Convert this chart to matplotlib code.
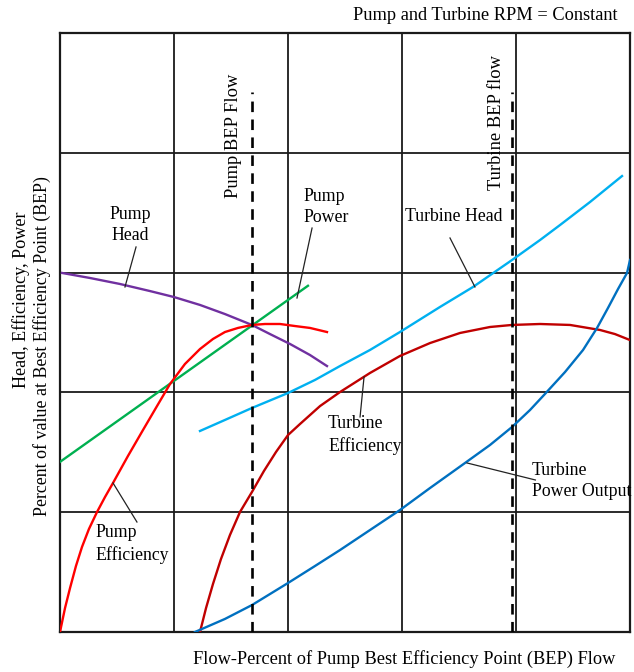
import matplotlib
matplotlib.use("Agg")
import matplotlib.pyplot as plt

plt.rcParams["font.family"] = ["Liberation Serif", "DejaVu Serif"]

# Curve data on a 5 x 5 grid (flow on x, percent of BEP value on y)
pump_head_x = [0.018, 0.263, 0.526, 0.789, 1.000, 1.228, 1.447, 1.684, 1.842, 2.018, 2.193, 2.342]
pump_head_y = [2.997, 2.955, 2.905, 2.846, 2.796, 2.730, 2.654, 2.563, 2.487, 2.404, 2.312, 2.220]

pump_power_x = [0.0, 2.175]
pump_power_y = [1.42, 2.89]

pump_eff_x = [0.0, 0.044, 0.088, 0.140, 0.193, 0.254, 0.325, 0.395, 0.465, 0.596, 0.728, 0.851,
              0.965, 1.096, 1.228, 1.342, 1.447, 1.561, 1.684, 1.798, 1.930, 2.061, 2.193, 2.342]
pump_eff_y = [0.0, 0.200, 0.367, 0.551, 0.710, 0.860, 1.002, 1.127, 1.244, 1.469, 1.686, 1.886,
              2.070, 2.237, 2.362, 2.446, 2.504, 2.538, 2.563, 2.571, 2.571, 2.554, 2.538, 2.504]

turb_head_x = [1.228, 1.447, 1.684, 2.000, 2.237, 2.456, 2.719, 2.982, 3.333, 3.623, 3.965,
               4.211, 4.386, 4.649, 4.930]
turb_head_y = [1.678, 1.770, 1.870, 1.995, 2.104, 2.220, 2.354, 2.504, 2.713, 2.880, 3.105,
               3.272, 3.397, 3.589, 3.806]

turb_eff_x = [1.228, 1.281, 1.342, 1.412, 1.491, 1.579, 1.684, 1.789, 1.895, 2.000, 2.105, 2.281,
              2.456, 2.719, 2.982, 3.246, 3.509, 3.772, 3.965, 4.211, 4.474, 4.737, 4.868, 5.000]
turb_eff_y = [0.0, 0.200, 0.401, 0.609, 0.810, 1.002, 1.169, 1.344, 1.503, 1.644, 1.736, 1.886,
              2.003, 2.162, 2.304, 2.412, 2.496, 2.546, 2.563, 2.571, 2.563, 2.521, 2.487, 2.437]

turb_power_x = [1.184, 1.447, 1.684, 2.000, 2.237, 2.456, 2.719, 2.982, 3.246, 3.553, 3.772,
                3.965, 4.123, 4.254, 4.430, 4.588, 4.711, 4.807, 4.895, 4.974, 5.000]
turb_power_y = [0.0, 0.109, 0.225, 0.409, 0.551, 0.684, 0.851, 1.018, 1.202, 1.411, 1.561,
                1.711, 1.853, 1.987, 2.170, 2.354, 2.538, 2.705, 2.863, 2.997, 3.105]

pump_bep_x = 1.684
turbine_bep_x = 3.965
bep_line_top = 4.51

fig = plt.figure(figsize=(6.34, 6.72), dpi=100)
ax = fig.add_axes([60 / 634, 40 / 672, 570 / 634, 599 / 672])
ax.set_xlim(0, 5)
ax.set_ylim(0, 5)
ax.set_xticks(range(6))
ax.set_yticks(range(6))
ax.tick_params(length=0, labelbottom=False, labelleft=False)
ax.grid(True, color="#1a1a1a", lw=1.3)
for s in ax.spines.values():
    s.set_linewidth(1.6)
    s.set_color("#1a1a1a")

lw = 1.7
ax.plot(pump_head_x, pump_head_y, color="#7030A0", lw=lw, zorder=3)
ax.plot(pump_power_x, pump_power_y, color="#00B050", lw=lw, zorder=3)
ax.plot(pump_eff_x, pump_eff_y, color="#FF0000", lw=lw, zorder=4)
ax.plot(turb_head_x, turb_head_y, color="#00B0F0", lw=lw, zorder=3)
ax.plot(turb_eff_x, turb_eff_y, color="#C00000", lw=lw, zorder=3)
ax.plot(turb_power_x, turb_power_y, color="#0070C0", lw=lw, zorder=3)

for bx in (pump_bep_x, turbine_bep_x):
    ax.plot([bx, bx], [0, bep_line_top], color="black", lw=1.9,
            dashes=(4, 2.8), zorder=5)

fs = 12.8
ax.text(1.518, 4.14, "Pump BEP Flow", rotation=90, ha="center",
        va="center", fontsize=13.3, zorder=6)
ax.text(3.833, 4.25, "Turbine BEP flow", rotation=90, ha="center",
        va="center", fontsize=13.3, zorder=6)

# Curve labels with leader lines
leader = dict(color="#222222", lw=0.9, zorder=6)
ax.text(0.614, 3.397, "Pump\nHead", ha="center", va="center", fontsize=fs,
        linespacing=1.35)
ax.plot([0.667, 0.570], [3.214, 2.880], **leader)

ax.text(2.132, 3.548, "Pump\nPower", ha="left", va="center", fontsize=fs,
        linespacing=1.35)
ax.plot([2.211, 2.079], [3.372, 2.788], **leader)

ax.text(3.026, 3.472, "Turbine Head", ha="left", va="center", fontsize=fs)
ax.plot([3.421, 3.640], [3.289, 2.880], **leader)

ax.text(2.351, 1.644, "Turbine\nEfficiency", ha="left", va="center", fontsize=fs,
        linespacing=1.35)
ax.plot([2.632, 2.667], [1.795, 2.129], **leader)

ax.text(4.140, 1.260, "Turbine\nPower Output", ha="left", va="center", fontsize=fs,
        linespacing=1.35)
ax.plot([3.570, 4.170], [1.411, 1.269], **leader)

ax.text(0.307, 0.735, "Pump\nEfficiency", ha="left", va="center", fontsize=fs,
        linespacing=1.35)
ax.plot([0.465, 0.675], [1.244, 0.918], **leader)

fig.text(618 / 634, 1 - 15 / 672, "Pump and Turbine RPM = Constant",
         ha="right", va="center", fontsize=13.2)
fig.text(404 / 634, 1 - 659 / 672,
         "Flow-Percent of Pump Best Efficiency Point (BEP) Flow",
         ha="center", va="center", fontsize=13.2)
fig.text(21 / 634, 1 - 300 / 672, "Head, Efficiency, Power", rotation=90,
         ha="center", va="center", fontsize=13.1)
fig.text(42 / 634, 1 - 346 / 672,
         "Percent of value at Best Efficiency Point (BEP)", rotation=90,
         ha="center", va="center", fontsize=12.9)

fig.savefig("out.png", dpi=100)
